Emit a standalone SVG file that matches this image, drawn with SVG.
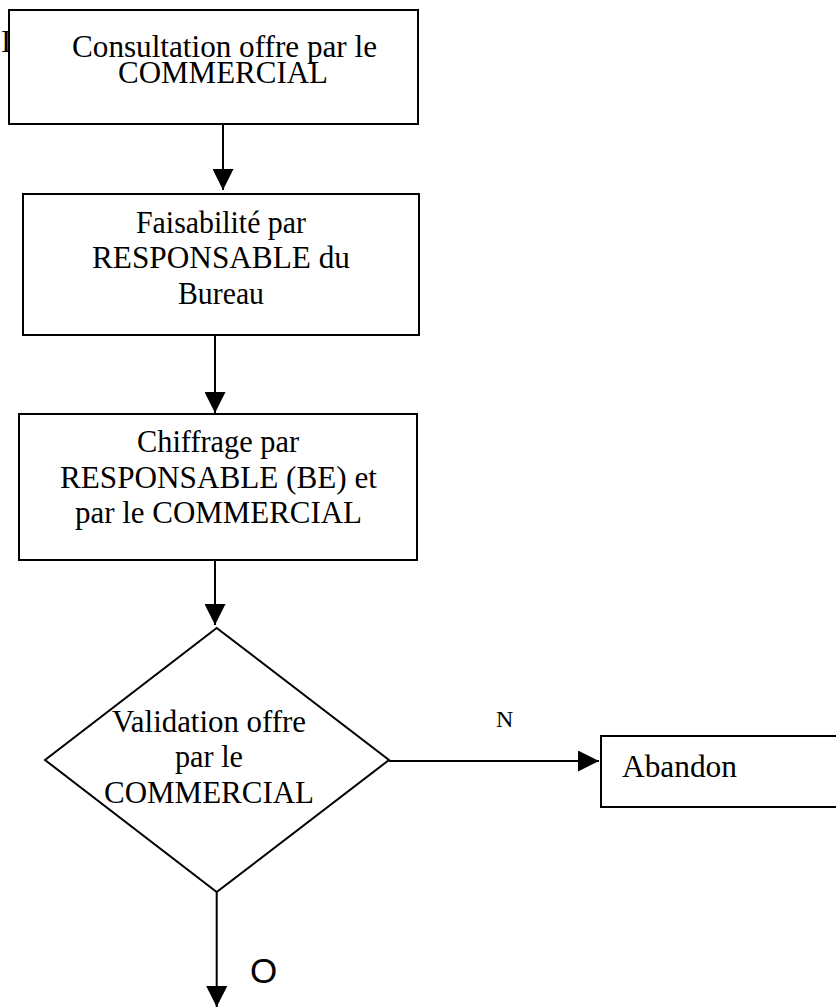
<svg xmlns="http://www.w3.org/2000/svg" width="836" height="1007" viewBox="0 0 836 1007">
  <style>
    .bg { fill: #ffffff; }
    .box { fill: #ffffff; stroke: #000000; stroke-width: 2; }
    .t { font-family: "Liberation Serif", "Times New Roman", serif; font-size: 31px; fill: #000000; }
    .lbl { font-family: "Liberation Serif", "Times New Roman", serif; font-size: 24px; fill: #000000; }
    .lbls { font-family: "Liberation Sans", Arial, sans-serif; font-size: 35px; fill: #000000; }
    .conn { fill: none; stroke: #000000; stroke-width: 2; marker-end: url(#arrow); }
  </style>
  <defs>
    <marker id="arrow" markerUnits="userSpaceOnUse" markerWidth="21" markerHeight="21" refX="20" refY="10" orient="auto" viewBox="0 0 20 20">
      <path d="M0,0 L20,10 L0,20 Z" fill="#000000"/>
    </marker>
  </defs>
  <rect class="bg" x="0" y="0" width="836" height="1007"/>

  <g id="fragment">
    <text class="t" x="1" y="52" font-size="24">I</text>
  </g>

  <g id="connectors">
    <line class="conn" x1="223" y1="125" x2="223" y2="190"/>
    <line class="conn" x1="215" y1="335" x2="215" y2="413"/>
    <line class="conn" x1="215" y1="561" x2="215" y2="625"/>
    <line class="conn" x1="389" y1="761" x2="599" y2="761"/>
    <line class="conn" x1="216.7" y1="892" x2="216.7" y2="1007"/>
  </g>

  <g id="n1">
    <rect class="box" x="9" y="10" width="409" height="114"/>
    <text class="t" x="72" y="57" textLength="305" lengthAdjust="spacingAndGlyphs">Consultation offre par le</text>
    <text class="t" x="118" y="83" textLength="210" lengthAdjust="spacingAndGlyphs">COMMERCIAL</text>
  </g>

  <g id="n2">
    <rect class="box" x="23" y="194" width="396" height="141"/>
    <text class="t" x="136" y="233" textLength="170" lengthAdjust="spacingAndGlyphs">Faisabilité par</text>
    <text class="t" x="92" y="268" textLength="258" lengthAdjust="spacingAndGlyphs">RESPONSABLE du</text>
    <text class="t" x="178" y="304" textLength="86" lengthAdjust="spacingAndGlyphs">Bureau</text>
  </g>

  <g id="n3">
    <rect class="box" x="19" y="414" width="398" height="146"/>
    <text class="t" x="137" y="452" textLength="162" lengthAdjust="spacingAndGlyphs">Chiffrage par</text>
    <text class="t" x="60" y="488" textLength="317" lengthAdjust="spacingAndGlyphs">RESPONSABLE (BE) et</text>
    <text class="t" x="75" y="523" textLength="287" lengthAdjust="spacingAndGlyphs">par le COMMERCIAL</text>
  </g>

  <g id="n4">
    <polygon class="box" points="216.7,628 389,760 216.7,892 45,760" stroke-width="1.8" fill="none"/>
    <text class="t" x="112" y="732" textLength="194" lengthAdjust="spacingAndGlyphs">Validation offre</text>
    <text class="t" x="175" y="767" textLength="68" lengthAdjust="spacingAndGlyphs">par le</text>
    <text class="t" x="104" y="803" textLength="210" lengthAdjust="spacingAndGlyphs">COMMERCIAL</text>
  </g>

  <g id="n5">
    <rect class="box" x="601" y="736" width="240" height="71"/>
    <text class="t" x="622" y="777" textLength="115" lengthAdjust="spacingAndGlyphs">Abandon</text>
  </g>

  <g id="labels">
    <text class="lbl" x="496" y="727">N</text>
    <text class="lbls" x="250" y="983">O</text>
  </g>
</svg>
